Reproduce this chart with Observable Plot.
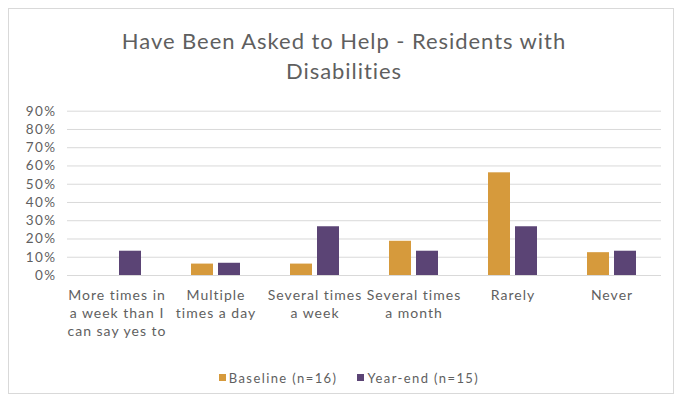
<!DOCTYPE html>
<html>
<head>
<meta charset="utf-8">
<script src="https://cdn.jsdelivr.net/npm/d3@7"></script>
<script src="https://cdn.jsdelivr.net/npm/@observablehq/plot@0.6"></script>
<style>
  html, body { margin: 0; padding: 0; background: #fff; }
  #wrap { position: relative; width: 682px; height: 401px; overflow: hidden; font-family: Lato, "Open Sans", sans-serif; color: #5f5f5f; }
  #frame { position: absolute; left: 8px; top: 8px; width: 666px; height: 386px; border: 1px solid #d9d9d9; box-sizing: border-box; }
  #title { position: absolute; left: 3px; width: 682px; top: 26px; text-align: center; font-size: 22px; letter-spacing: 0.95px; line-height: 30px; color: #5f5f5f; }
  #chart { position: absolute; left: 0; top: 100px; }
  #legend { position: absolute; left: 8px; width: 682px; top: 367px; text-align: center; font-size: 13px; letter-spacing: 1.4px; line-height: 18px; white-space: nowrap; }
  .item { display: inline-flex; align-items: center; margin: 0 10px; }
  .sw { display: inline-block; width: 7px; height: 7px; margin-right: 3px; }
  #chart svg g[aria-label="fx-axis tick label"] text { letter-spacing: 1px; }
  #chart svg g[aria-label="y-axis tick label"] text { letter-spacing: 1.4px; }
</style>
</head>
<body>
<div id="wrap">
  <div id="frame"></div>
  <div id="title">Have Been Asked to Help - Residents with<br>Disabilities</div>
  <div id="chart"></div>
  <div id="legend"></div>
</div>
<script>
const categories = ["More times in a week than I can say yes to", "Multiple times a day", "Several times a week", "Several times a month", "Rarely", "Never"];
const categoryLabels = ["More times in\na week than I\ncan say yes to", "Multiple\ntimes a day", "Several times\na week", "Several times\na month", "Rarely", "Never"];
const series = ["Baseline (n=16)", "Year-end (n=15)"];
const baselineValues = [0, 0.0625, 0.0625, 0.1875, 0.5625, 0.125];
const yearEndValues = [0.133, 0.067, 0.267, 0.133, 0.267, 0.133];
const yTicks = [0, 0.1, 0.2, 0.3, 0.4, 0.5, 0.6, 0.7, 0.8, 0.9];
const seriesColors = ["#D69A3C", "#5B4475"];

const data = categories.flatMap((c, i) => [
  {category: c, series: series[0], value: baselineValues[i]},
  {category: c, series: series[1], value: yearEndValues[i]}
]);

const chart = Plot.plot({
  width: 682,
  height: 250,
  marginLeft: 64,
  marginRight: 19,
  marginTop: 10.7,
  marginBottom: 75,
  style: {fontFamily: "Lato, 'Open Sans', sans-serif", color: "#5f5f5f", background: "transparent"},
  fx: {domain: categories, paddingInner: 0, paddingOuter: 0, label: null},
  x: {domain: series, paddingInner: 0.2, paddingOuter: 0.9, axis: null},
  y: {domain: [0, 0.9], label: null},
  color: {domain: series, range: seriesColors},
  marks: [
    Plot.gridY(yTicks, {stroke: "#d9d9d9", strokeOpacity: 1, strokeWidth: 1}),
    Plot.axisY(yTicks, {tickFormat: d3.format(".0%"), tickSize: 0, tickPadding: 11, fontSize: 13.5, color: "#5f5f5f", label: null}),
    Plot.axisFx({anchor: "bottom", tickFormat: d => categoryLabels[categories.indexOf(d)], tickSize: 0, tickPadding: 12, fontSize: 14, lineHeight: 1.29, color: "#5f5f5f", label: null}),
    Plot.barY(data, {fx: "category", x: "series", y: "value", fill: "series"})
  ]
});
document.getElementById("chart").appendChild(chart);

const legend = document.getElementById("legend");
series.forEach((s, i) => {
  const item = document.createElement("span");
  item.className = "item";
  const sw = document.createElement("span");
  sw.className = "sw";
  sw.style.background = seriesColors[i];
  item.appendChild(sw);
  item.appendChild(document.createTextNode(s));
  legend.appendChild(item);
});
</script>
</body>
</html>
